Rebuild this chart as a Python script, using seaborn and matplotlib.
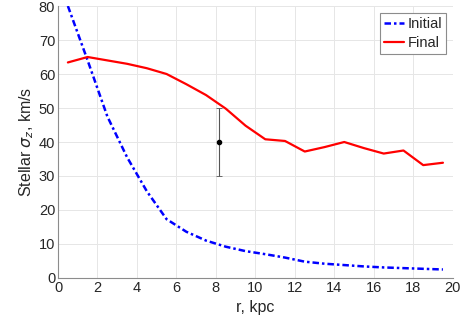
import numpy as np
import pandas as pd
import seaborn as sns
import matplotlib.pyplot as plt

# radial bins (kpc)
r = [0.5, 1.5, 2.5, 3.5, 4.5, 5.5, 6.5, 7.5, 8.5, 9.5,
     10.5, 11.5, 12.5, 13.5, 14.5, 15.5, 16.5, 17.5, 18.5, 19.5]
sigma_initial = [80.0, 64.0, 47.5, 35.5, 25.5, 17.3, 13.6, 11.0, 9.2, 7.9,
                 7.0, 6.0, 4.8, 4.2, 3.8, 3.4, 3.1, 2.9, 2.7, 2.5]
sigma_final = [63.4, 65.0, 64.0, 63.0, 61.7, 60.0, 57.0, 53.8, 49.8, 44.8,
               40.8, 40.3, 37.2, 38.5, 40.0, 38.2, 36.6, 37.5, 33.2, 33.9]

# observed point near the Sun
obs_r = [8.15]
obs_sigma = [40.0]
obs_err = [10.0]

df = pd.DataFrame({
    "r": r * 2,
    "sigma": sigma_initial + sigma_final,
    "model": ["Initial"] * len(r) + ["Final"] * len(r),
})

sns.set_theme(style="whitegrid")
plt.rcParams["font.family"] = ["Liberation Sans", "DejaVu Sans"]
plt.rcParams["mathtext.fontset"] = "dejavusans"

fig = plt.figure(figsize=(4.63, 3.34), dpi=100)
ax = fig.add_axes([0.1253, 0.1677, 0.8527, 0.8143])

sns.lineplot(data=df[df.model == "Initial"], x="r", y="sigma", ax=ax,
             color="#0000ff", linestyle=(0, (2.6, 1.2, 1.0, 1.2)),
             linewidth=1.8, label="Initial")
sns.lineplot(data=df[df.model == "Final"], x="r", y="sigma", ax=ax,
             color="#ff0000", linestyle="-", linewidth=1.6, label="Final")

ax.errorbar(obs_r, obs_sigma, yerr=obs_err, fmt="o", color="black",
            markersize=3, ecolor="#555555", elinewidth=0.8, capsize=2.5,
            capthick=0.6)

ax.set_xlim(0, 20)
ax.set_ylim(0, 80)
ax.set_xticks(np.arange(0, 21, 2))
ax.set_yticks(np.arange(0, 81, 10))
ax.set_xlabel("r, kpc", fontsize=11.5, color="#262626")
ax.set_ylabel(r"Stellar $\sigma_z$, km/s", fontsize=11.5, color="#262626",
              labelpad=2)

ax.grid(True, color="#e6e6e6", linewidth=0.7)
for side in ["top", "right"]:
    ax.spines[side].set_visible(False)
for side in ["left", "bottom"]:
    ax.spines[side].set_visible(True)
    ax.spines[side].set_color("#8c8c8c")
    ax.spines[side].set_linewidth(0.8)
ax.tick_params(direction="in", length=3, width=0.6, color="#8c8c8c",
               labelsize=10.5, labelcolor="#262626", pad=2)

leg = ax.legend(loc="upper right", fontsize=10.5, handlelength=1.4,
                handletextpad=0.2, borderpad=0.3, labelspacing=0.35,
                fancybox=False, framealpha=1, borderaxespad=0.45)
leg.get_frame().set_edgecolor("#8c8c8c")
leg.get_frame().set_linewidth(0.8)

fig.savefig("out.png", dpi=100)
